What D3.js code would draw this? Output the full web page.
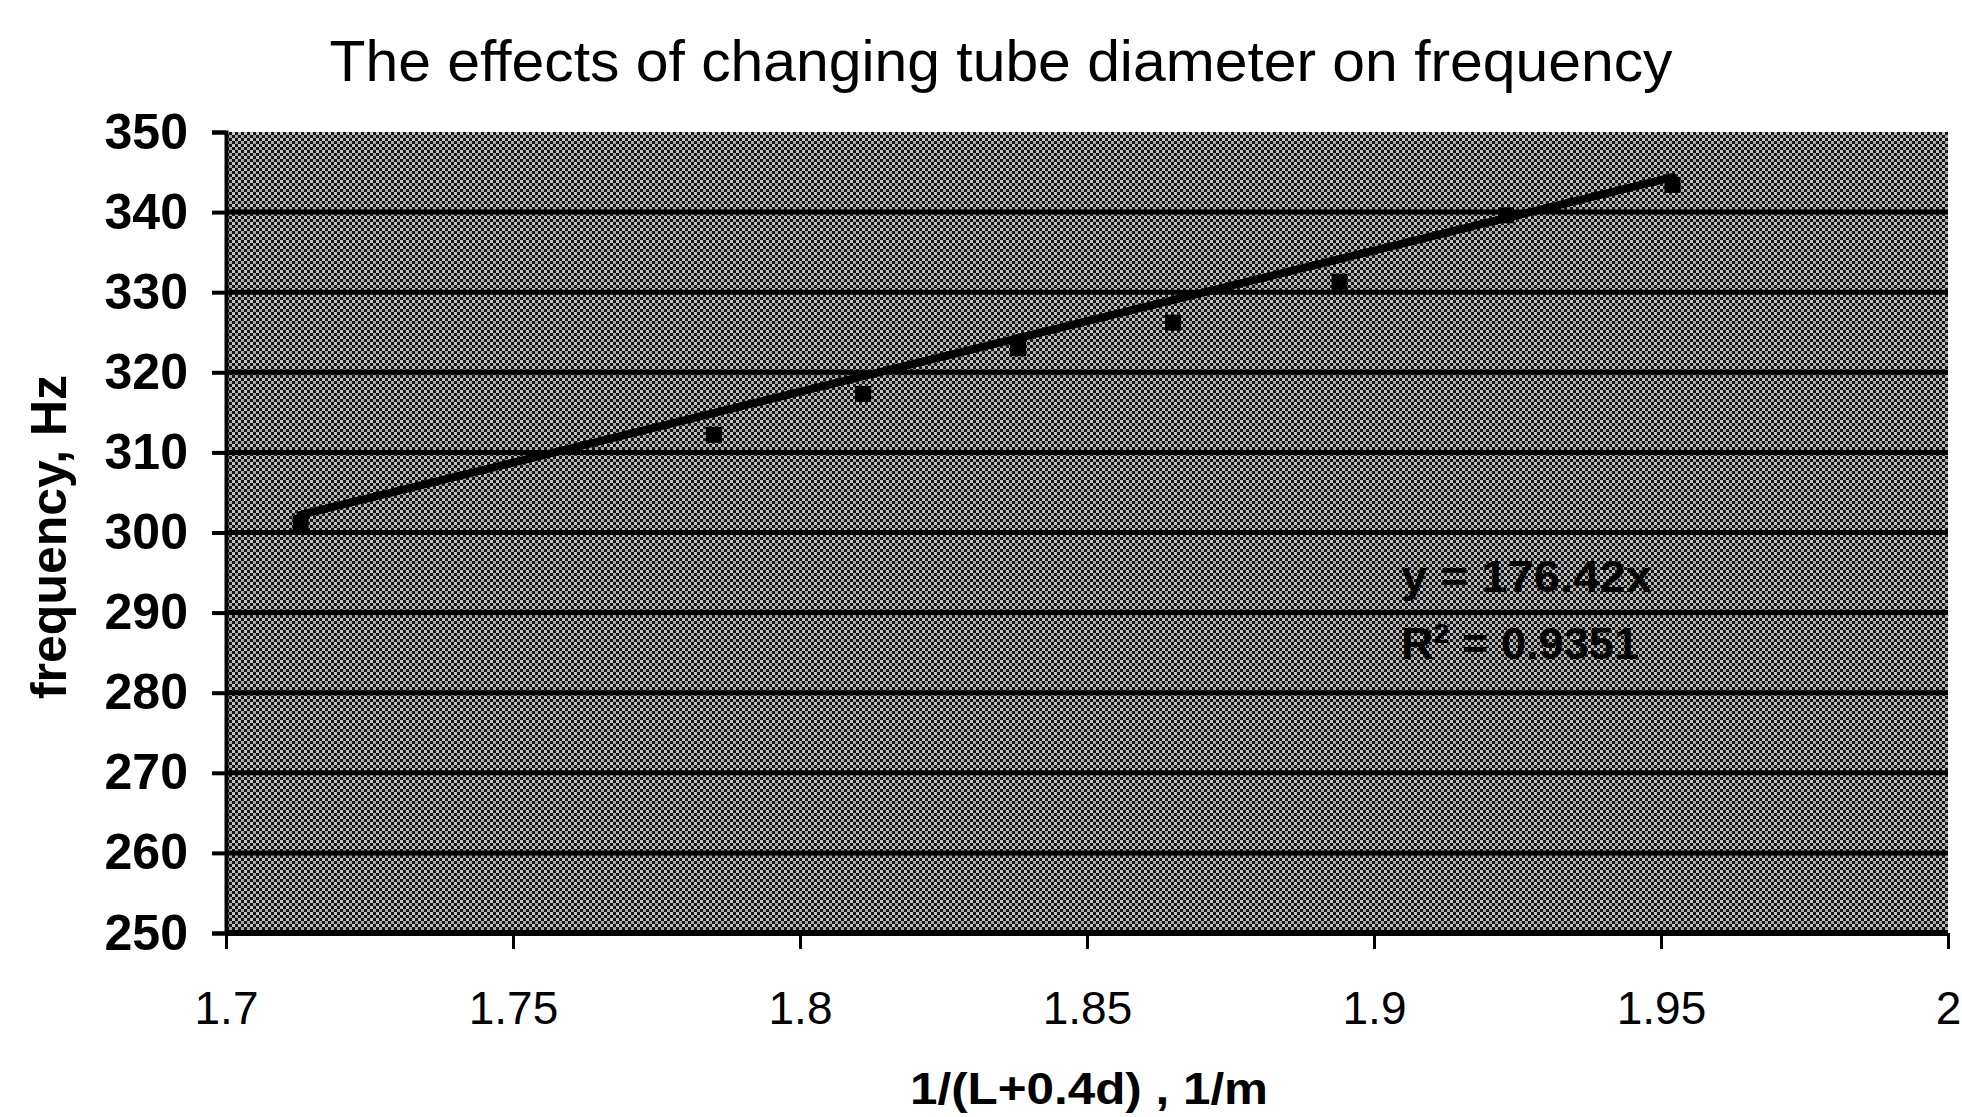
<!DOCTYPE html>
<html>
<head>
<meta charset="utf-8">
<script src="https://cdn.jsdelivr.net/npm/d3@7"></script>
<style>
  body { margin: 0; background: #fff; }
  svg { display: block; }
</style>
</head>
<body>
<div id="chart"></div>
<script>
// measured points: 1/(L+0.4d) against frequency
var xValues = [1.713, 1.785, 1.811, 1.838, 1.865, 1.894, 1.923, 1.952];
var freqValues = [301.2, 312.2, 317.3, 323.0, 326.2, 331.3, 339.6, 343.4];
var xTicks = [1.7, 1.75, 1.8, 1.85, 1.9, 1.95, 2];
var yTicks = [250, 260, 270, 280, 290, 300, 310, 320, 330, 340, 350];
var slope = 176.42;          // trendline through origin
var rSquared = "0.9351";

var W = 1962, H = 1117;
var margin = {top: 132, right: 14, bottom: 184, left: 226};
var width = W - margin.left - margin.right;
var height = H - margin.top - margin.bottom;

var svg = d3.select("#chart").append("svg")
    .attr("width", W)
    .attr("height", H);

// dithered grey fill, like the scanned plot area
var defs = svg.append("defs");
var pat = defs.append("pattern")
    .attr("id", "dither")
    .attr("width", 6).attr("height", 6)
    .attr("patternUnits", "userSpaceOnUse");
pat.append("rect").attr("width", 6).attr("height", 6).attr("fill", "#161616");
pat.append("rect").attr("x", 0).attr("y", 0).attr("width", 3).attr("height", 3).attr("fill", "#c4c4c4");
pat.append("rect").attr("x", 3).attr("y", 3).attr("width", 3).attr("height", 3).attr("fill", "#a8a8a8");

var g = svg.append("g")
    .attr("transform", "translate(" + margin.left + "," + margin.top + ")");

var x = d3.scaleLinear().domain([1.7, 2]).range([0, width]);
var y = d3.scaleLinear().domain([250, 350]).range([height, 0]);

g.append("rect")
    .attr("width", width)
    .attr("height", height)
    .attr("fill", "url(#dither)");

// horizontal gridlines
g.selectAll(".grid")
    .data(yTicks.filter(function(d){ return d > 250 && d < 350; }))
    .enter().append("line")
    .attr("x1", 0).attr("x2", width)
    .attr("y1", function(d){ return y(d); })
    .attr("y2", function(d){ return y(d); })
    .attr("stroke", "#000")
    .attr("stroke-width", 5);

// y axis
var yAxis = g.append("g")
    .call(d3.axisLeft(y).tickValues(yTicks).tickSize(14).tickPadding(24).tickFormat(d3.format("d")));
yAxis.select(".domain").attr("stroke-width", 4);
yAxis.selectAll(".tick line").attr("stroke-width", 4);
yAxis.selectAll("text")
    .style("font-family", "'Liberation Sans', Arial, sans-serif")
    .style("font-size", "50px")
    .style("font-weight", "bold")
    .attr("fill", "#000");

// x axis
var xAxis = g.append("g")
    .attr("transform", "translate(0," + height + ")")
    .call(d3.axisBottom(x).tickValues(xTicks).tickSize(16).tickPadding(42).tickFormat(function(d){ return d3.format("")(d); }));
xAxis.select(".domain").attr("stroke-width", 6).attr("d", "M0,0H" + width);
xAxis.selectAll(".tick line").attr("stroke-width", 3);
xAxis.selectAll("text")
    .style("font-family", "'Liberation Sans', Arial, sans-serif")
    .style("font-size", "46px")
    .attr("fill", "#000");

// trendline across the data range
var x0 = d3.min(xValues), x1 = d3.max(xValues);
g.append("line")
    .attr("x1", x(x0)).attr("y1", y(slope * x0))
    .attr("x2", x(x1)).attr("y2", y(slope * x1))
    .attr("stroke", "#000")
    .attr("stroke-width", 8)
    .attr("stroke-linecap", "round");

// markers
g.selectAll(".pt")
    .data(xValues)
    .enter().append("rect")
    .attr("x", function(d){ return x(d) - 8; })
    .attr("y", function(d, i){ return y(freqValues[i]) - 8; })
    .attr("width", 16).attr("height", 16)
    .attr("fill", "#000");

// equation label
var eq = g.append("g")
    .style("font-family", "'Liberation Sans', Arial, sans-serif")
    .style("font-weight", "bold")
    .style("font-size", "44px")
    .attr("fill", "#000");
eq.append("text")
    .attr("x", 1401 - margin.left).attr("y", 592 - margin.top)
    .attr("textLength", 251).attr("lengthAdjust", "spacingAndGlyphs")
    .text("y = " + slope + "x");
var r2 = eq.append("text")
    .attr("x", 1401 - margin.left).attr("y", 659 - margin.top)
    .attr("textLength", 238).attr("lengthAdjust", "spacingAndGlyphs");
r2.append("tspan").text("R");
r2.append("tspan").attr("dy", -16).style("font-size", "28px").text("2");
r2.append("tspan").attr("dy", 16).text(" = " + rSquared);

// title
svg.append("text")
    .attr("x", 1001).attr("y", 81)
    .attr("text-anchor", "middle")
    .attr("textLength", 1343).attr("lengthAdjust", "spacingAndGlyphs")
    .style("font-family", "'Liberation Sans', Arial, sans-serif")
    .style("font-size", "58px")
    .text("The effects of changing tube diameter on frequency");

// axis titles
svg.append("text")
    .attr("x", 1089).attr("y", 1104)
    .attr("text-anchor", "middle")
    .attr("textLength", 358).attr("lengthAdjust", "spacingAndGlyphs")
    .style("font-family", "'Liberation Sans', Arial, sans-serif")
    .style("font-size", "44px")
    .style("font-weight", "bold")
    .text("1/(L+0.4d) , 1/m");

svg.append("text")
    .attr("transform", "translate(66,537) rotate(-90)")
    .attr("text-anchor", "middle")
    .style("font-family", "'Liberation Sans', Arial, sans-serif")
    .style("font-size", "50px")
    .style("font-weight", "bold")
    .text("frequency, Hz");
</script>
</body>
</html>
